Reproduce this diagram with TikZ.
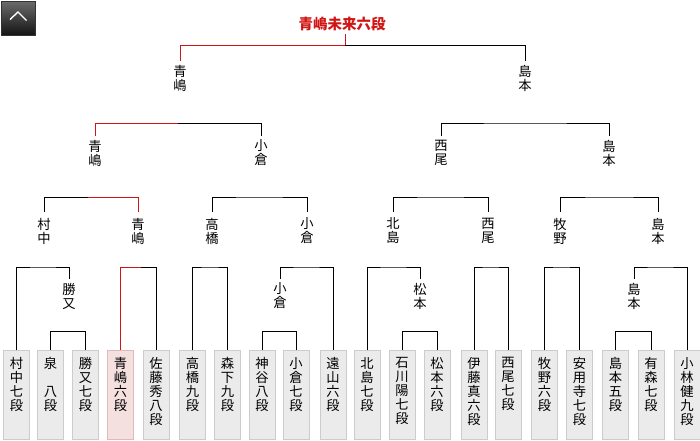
\documentclass[tikz,border=0pt]{standalone}
\usepackage{fontspec}
\newfontfamily\jp{Noto Sans CJK JP}
\definecolor{winred}{HTML}{D01515}
\definecolor{boxfill}{HTML}{EBEBEB}
\definecolor{boxline}{HTML}{CCCCCC}
\definecolor{wfill}{HTML}{F5E0E0}
\definecolor{wline}{HTML}{E2B8B8}
\tikzset{
  ln/.style={line width=1pt, black},
  win/.style={line width=1pt, winred},
  lbl/.style={font=\jp\fontsize{13.3}{14}\selectfont, align=center, inner xsep=0pt, inner ysep=4pt},
  box/.style={draw=boxline, fill=boxfill, line width=1pt, minimum width=26pt, minimum height=89pt, inner sep=0pt, anchor=north},
  wbox/.style={box, draw=wline, fill=wfill},
  btxt/.style={font=\jp\fontsize{13.3}{14}\selectfont, align=center, inner sep=0pt, anchor=north},
}
\begin{document}
\begin{tikzpicture}[x=1pt, y=-1pt]
\useasboundingbox (0,0) rectangle (700,440);
% button
\node[draw=black!80, line width=0.8pt, top color=black!58, bottom color=black!92, minimum width=34pt, minimum height=34pt, inner sep=0pt] (btn) at (18,18) {};
\draw[white, line width=1.4pt] ([shift={(-8,1.5)}]btn.center) -- ([shift={(0,-6)}]btn.center) -- ([shift={(8.5,2.5)}]btn.center);
% title
\node[font=\jp\bfseries\fontsize{14.5}{16}\selectfont, text=winred, inner sep=3pt] (T) at (342,24) {青嶋未来六段};
% level 1 labels
\node[lbl] (L1a) at (180,78.5) {青\\嶋};
\node[lbl] (L1b) at (525,78.5) {島\\本};
% level 2 labels
\node[lbl] (L2a) at (95,153) {青\\嶋};
\node[lbl] (L2b) at (261,153) {小\\倉};
\node[lbl] (L2c) at (441,153) {西\\尾};
\node[lbl] (L2d) at (609,153) {島\\本};
% level 3 labels
\node[lbl, inner ysep=6pt] (L3a) at (44,231) {村\\中};
\node[lbl, inner ysep=6pt] (L3b) at (138,231) {青\\嶋};
\node[lbl, inner ysep=6pt] (L3c) at (212,231) {高\\橋};
\node[lbl, inner ysep=6pt] (L3d) at (307,231) {小\\倉};
\node[lbl, inner ysep=6pt] (L3e) at (393,231) {北\\島};
\node[lbl, inner ysep=6pt] (L3f) at (488,231) {西\\尾};
\node[lbl, inner ysep=6pt] (L3g) at (560,231) {牧\\野};
\node[lbl, inner ysep=6pt] (L3h) at (658,231) {島\\本};
% level 4 labels
\node[lbl] (L4a) at (69,296) {勝\\又};
\node[lbl] (L4b) at (280,296) {小\\倉};
\node[lbl] (L4c) at (420,296) {松\\本};
\node[lbl] (L4d) at (634,296) {島\\本};
% boxes
\node[box]  (b1)  at (16.5,350) {};
\node[box]  (b2)  at (50.5,350) {};
\node[box]  (b3)  at (85.5,350) {};
\node[wbox] (b4)  at (120.5,350) {};
\node[box]  (b5)  at (156,350) {};
\node[box]  (b6)  at (192.5,350) {};
\node[box]  (b7)  at (227.5,350) {};
\node[box]  (b8)  at (262,350) {};
\node[box]  (b9)  at (296,350) {};
\node[box]  (b10) at (333,350) {};
\node[box]  (b11) at (367,350) {};
\node[box]  (b12) at (402,350) {};
\node[box]  (b13) at (437,350) {};
\node[box]  (b14) at (474,350) {};
\node[box]  (b15) at (508,350) {};
\node[box]  (b16) at (544.5,350) {};
\node[box]  (b17) at (579.5,350) {};
\node[box]  (b18) at (615.5,350) {};
\node[box]  (b19) at (651,350) {};
\node[box]  (b20) at (687,350) {};
% box texts
\node[btxt] (t1)  at ([yshift=-7pt]b1.north)  {村\\中\\七\\段};
\node[btxt] (t2)  at ([yshift=-7pt]b2.north)  {泉\\\phantom{八}\\八\\段};
\node[btxt] (t3)  at ([yshift=-7pt]b3.north)  {勝\\又\\七\\段};
\node[btxt] (t4)  at ([yshift=-7pt]b4.north)  {青\\嶋\\六\\段};
\node[btxt] (t5)  at ([yshift=-7pt]b5.north)  {佐\\藤\\秀\\八\\段};
\node[btxt] (t6)  at ([yshift=-7pt]b6.north)  {高\\橋\\九\\段};
\node[btxt] (t7)  at ([yshift=-7pt]b7.north)  {森\\下\\九\\段};
\node[btxt] (t8)  at ([yshift=-7pt]b8.north)  {神\\谷\\八\\段};
\node[btxt] (t9)  at ([yshift=-7pt]b9.north)  {小\\倉\\七\\段};
\node[btxt] (t10) at ([yshift=-7pt]b10.north) {遠\\山\\六\\段};
\node[btxt] (t11) at ([yshift=-7pt]b11.north) {北\\島\\七\\段};
\node[btxt] (t12) at ([yshift=-7pt]b12.north) {石\\川\\陽\\七\\段};
\node[btxt] (t13) at ([yshift=-7pt]b13.north) {松\\本\\六\\段};
\node[btxt] (t14) at ([yshift=-7pt]b14.north) {伊\\藤\\真\\六\\段};
\node[btxt] (t15) at ([yshift=-7pt]b15.north) {西\\尾\\七\\段};
\node[btxt] (t16) at ([yshift=-7pt]b16.north) {牧\\野\\六\\段};
\node[btxt] (t17) at ([yshift=-7pt]b17.north) {安\\用\\寺\\七\\段};
\node[btxt] (t18) at ([yshift=-7pt]b18.north) {島\\本\\五\\段};
\node[btxt] (t19) at ([yshift=-7pt]b19.north) {有\\森\\七\\段};
\node[btxt] (t20) at ([yshift=-7pt]b20.north) {小\\林\\健\\九\\段};
% joints
\coordinate (j0) at (345,45);
\coordinate (j1a) at (178,123);
\coordinate (j1b) at (525,123);
\coordinate (j2a) at (88,197);
\coordinate (j2b) at (259,197);
\coordinate (j2c) at (440,197);
\coordinate (j2d) at (609,197);
\coordinate (j3a) at (43,267);
\coordinate (j3b) at (141,267);
\coordinate (j3c) at (210,267);
\coordinate (j3d) at (306,267);
\coordinate (j3e) at (393,267);
\coordinate (j3f) at (490,267);
\coordinate (j3g) at (561,267);
\coordinate (j3h) at (660,267);
\coordinate (j4a) at (68,331);
\coordinate (j4b) at (279,331);
\coordinate (j4c) at (419,331);
\coordinate (j4d) at (633,331);
% level 1 connectors
\draw[win] (j0 |- T.south) -- (j0) -| (L1a.north);
\draw[ln] (j0) -| (L1b.north);
% level 2
\draw[win] (j1a) -| (L2a.north);
\draw[ln] (j1a) -| (L2b.north);
\draw[ln] (L2c.north) |- (j1b) -| (L2d.north);
% level 3
\draw[ln] (j2a) -| (L3a.north);
\draw[win] (j2a) -| (L3b.north);
\draw[ln] (L3c.north) |- (j2b) -| (L3d.north);
\draw[ln] (L3e.north) |- (j2c) -| (L3f.north);
\draw[ln] (L3g.north) |- (j2d) -| (L3h.north);
% level 4
\draw[ln] (b1.north) |- (j3a) -| (L4a.north);
\draw[win] (j3b) -| (b4.north);
\draw[ln] (j3b) -| (b5.north);
\draw[ln] (b6.north) |- (j3c) -| (b7.north);
\draw[ln] (L4b.north) |- (j3d) -| (b10.north);
\draw[ln] (b11.north) |- (j3e) -| (L4c.north);
\draw[ln] (b14.north) |- (j3f) -| (b15.north);
\draw[ln] (b16.north) |- (j3g) -| (b17.north);
\draw[ln] (L4d.north) |- (j3h) -| (b20.north);
% level 5
\draw[ln] (b2.north) |- (j4a) -| (b3.north);
\draw[ln] (b8.north) |- (j4b) -| (b9.north);
\draw[ln] (b12.north) |- (j4c) -| (b13.north);
\draw[ln] (b18.north) |- (j4d) -| (b19.north);
\end{tikzpicture}
\end{document}
